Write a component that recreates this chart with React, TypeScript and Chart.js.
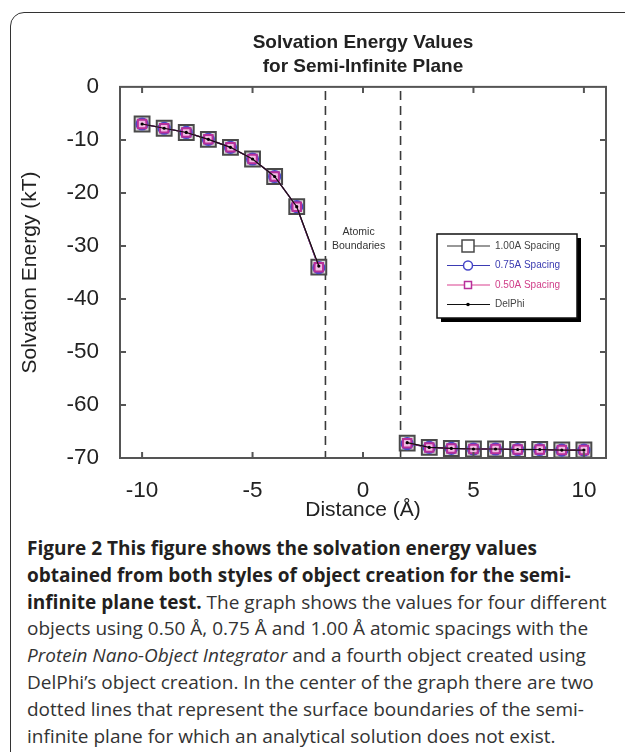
import React, { useEffect, useRef } from "react";
import { Chart, registerables } from "chart.js";

Chart.register(...registerables);

// ---------- data ----------
const DISTANCE = [-10, -9, -8, -7, -6, -5, -4, -3, -2, 2, 3, 4, 5, 6, 7, 8, 9, 10];
const SPACING_100 = [-7.0, -7.8, -8.6, -9.9, -11.4, -13.6, -16.9, -22.6, -34.0, -67.2, -68.0, -68.2, -68.3, -68.3, -68.4, -68.4, -68.5, -68.5];
const SPACING_075 = [-7.0, -7.8, -8.6, -9.9, -11.4, -13.6, -16.9, -22.6, -34.1, -67.3, -68.0, -68.2, -68.3, -68.3, -68.4, -68.4, -68.5, -68.5];
const SPACING_050 = [-7.0, -7.8, -8.6, -9.9, -11.4, -13.6, -16.9, -22.6, -34.0, -67.2, -68.0, -68.2, -68.3, -68.3, -68.4, -68.4, -68.5, -68.5];
const DELPHI = [-7.0, -7.8, -8.6, -9.9, -11.4, -13.6, -16.9, -22.6, -33.8, -67.1, -68.0, -68.2, -68.3, -68.3, -68.4, -68.4, -68.5, -68.5];
const SERIES_LABELS = ["1.00A Spacing", "0.75A Spacing", "0.50A Spacing", "DelPhi"];
const X_TICKS = [-10, -5, 0, 5, 10];
const BOUNDARIES = [-1.7, 1.7];
const ANNOTATION = ["Atomic", "Boundaries"];
const ANNOTATION_POS = { x: -0.2, y: [-27.4, -30.0] };
const TITLE = ["Solvation Energy Values", "for Semi-Infinite Plane"];
const X_TITLE = "Distance (Å)";
const Y_TITLE = "Solvation Energy (kT)";

const FONT = "Arial, 'Liberation Sans', sans-serif";

const toPoints = (arr: number[]) => DISTANCE.map((x, i) => ({ x, y: arr[i] }));
const gapSegment = {
  borderColor: (ctx: any) => (ctx.p1.parsed.x - ctx.p0.parsed.x > 1.5 ? "rgba(0,0,0,0)" : undefined),
};

const framePlugin = {
  id: "frame",
  beforeDatasetsDraw(chart: any) {
    const { ctx, chartArea: a, scales } = chart;
    const xs = scales.x;
    ctx.save();
    ctx.strokeStyle = "#3a3a3a";
    ctx.lineWidth = 1.6;
    ctx.setLineDash([9, 6]);
    BOUNDARIES.forEach((b) => {
      const px = xs.getPixelForValue(b);
      ctx.beginPath();
      ctx.moveTo(px, a.top + 4);
      ctx.lineTo(px, a.bottom);
      ctx.stroke();
    });
    ctx.setLineDash([]);
    ctx.fillStyle = "#333";
    ctx.font = `10.5px ${FONT}`;
    ctx.textAlign = "center";
    ctx.textBaseline = "middle";
    ANNOTATION.forEach((t, i) => {
      ctx.fillText(t, xs.getPixelForValue(ANNOTATION_POS.x), scales.y.getPixelForValue(ANNOTATION_POS.y[i]));
    });
    ctx.restore();
  },
  afterDraw(chart: any) {
    const { ctx, chartArea: a, scales } = chart;
    ctx.save();
    ctx.strokeStyle = "#555";
    ctx.lineWidth = 2;
    ctx.strokeRect(a.left, a.top, a.right - a.left, a.bottom - a.top);
    const tl = 6;
    ctx.beginPath();
    scales.x.ticks.forEach((t: any) => {
      const px = scales.x.getPixelForValue(t.value);
      ctx.moveTo(px, a.top);
      ctx.lineTo(px, a.top + tl);
      ctx.moveTo(px, a.bottom);
      ctx.lineTo(px, a.bottom - tl);
    });
    scales.y.ticks.forEach((t: any) => {
      if (t.value === scales.y.min || t.value === scales.y.max) return;
      const py = scales.y.getPixelForValue(t.value);
      ctx.moveTo(a.left, py);
      ctx.lineTo(a.left + tl, py);
      ctx.moveTo(a.right, py);
      ctx.lineTo(a.right - tl, py);
    });
    ctx.stroke();

    // legend
    const L = { x: 437, y: 234, w: 140, h: 84 };
    ctx.fillStyle = "#000";
    ctx.fillRect(L.x + 4, L.y + 4, L.w, L.h);
    ctx.fillStyle = "#fff";
    ctx.fillRect(L.x, L.y, L.w, L.h);
    ctx.strokeStyle = "#111";
    ctx.lineWidth = 1.5;
    ctx.strokeRect(L.x, L.y, L.w, L.h);
    const textColors = ["#444", "#3b3bb0", "#d0408a", "#444"];
    chart.data.datasets.forEach((ds: any, i: number) => {
      const ry = L.y + 12 + i * 19.5;
      const sx0 = L.x + 10, sx1 = L.x + 53, mx = L.x + 31;
      ctx.strokeStyle = ds.borderColor;
      ctx.lineWidth = 1.2;
      ctx.beginPath();
      ctx.moveTo(sx0, ry);
      ctx.lineTo(sx1, ry);
      ctx.stroke();
      const r = ds.legendRadius;
      ctx.fillStyle = ds.legendFill;
      ctx.strokeStyle = ds.pointBorderColor;
      ctx.lineWidth = ds.pointBorderWidth ? 1.5 : 1;
      ctx.beginPath();
      if (ds.pointStyle === "rect") {
        ctx.rect(mx - r, ry - r, 2 * r, 2 * r);
      } else {
        ctx.arc(mx, ry, r, 0, Math.PI * 2);
      }
      ctx.fill();
      if (ds.pointBorderWidth) ctx.stroke();
      ctx.fillStyle = textColors[i];
      ctx.font = `10px ${FONT}`;
      ctx.textAlign = "left";
      ctx.textBaseline = "middle";
      ctx.fillText(ds.label, L.x + 58, ry);
    });
    ctx.restore();
  },
};

function ChartView() {
  const ref = useRef<HTMLCanvasElement | null>(null);
  useEffect(() => {
    if (!ref.current) return;
    const chart = new Chart(ref.current, {
      type: "line",
      data: {
        datasets: [
          {
            label: SERIES_LABELS[0],
            data: toPoints(SPACING_100),
            borderColor: "#333",
            borderWidth: 1.3,
            pointStyle: "rect",
            pointRadius: 10.5,
            pointBorderColor: "#4a4a4a",
            pointBackgroundColor: "#dcdcdc",
            pointBorderWidth: 2,
            order: 3,
            segment: gapSegment,
            legendRadius: 6,
            legendFill: "#fff",
          } as any,
          {
            label: SERIES_LABELS[1],
            data: toPoints(SPACING_075),
            borderColor: "#3b3bb3",
            borderWidth: 1.2,
            pointStyle: "circle",
            pointRadius: 5.5,
            pointBorderColor: "#4646c8",
            pointBackgroundColor: "#fff",
            pointBorderWidth: 2.2,
            order: 2,
            segment: gapSegment,
            legendRadius: 4.5,
            legendFill: "#fff",
          } as any,
          {
            label: SERIES_LABELS[2],
            data: toPoints(SPACING_050),
            borderColor: "#d9418f",
            borderWidth: 1.2,
            pointStyle: "rect",
            pointRadius: 6,
            pointBorderColor: "#b8309a",
            pointBackgroundColor: "rgba(235,160,215,0.7)",
            pointBorderWidth: 2,
            order: 1,
            segment: gapSegment,
            legendRadius: 3.5,
            legendFill: "#fff",
          } as any,
          {
            label: SERIES_LABELS[3],
            data: toPoints(DELPHI),
            borderColor: "#111",
            borderWidth: 1.2,
            pointStyle: "circle",
            pointRadius: 1.6,
            pointBorderColor: "#000",
            pointBackgroundColor: "#000",
            pointBorderWidth: 0,
            order: 0,
            segment: gapSegment,
            legendRadius: 1.8,
            legendFill: "#000",
          } as any,
        ],
      },
      options: {
        responsive: false,
        animation: false,
        events: [],
        layout: { padding: { left: 0, right: 19, top: 0, bottom: 0 } },
        plugins: {
          legend: { display: false },
          tooltip: { enabled: false },
          title: {
            display: true,
            text: TITLE,
            fullSize: false,
            color: "#222",
            font: { family: FONT, size: 19, weight: "bold", lineHeight: 1.26 },
            padding: { top: 31, bottom: 8 },
          },
        },
        scales: {
          x: {
            type: "linear",
            min: -11,
            max: 11,
            afterBuildTicks: (s: any) => {
              s.ticks = X_TICKS.map((v) => ({ value: v }));
            },
            afterFit: (s: any) => {
              s.height = 72;
            },
            grid: { display: false },
            border: { display: false },
            ticks: {
              color: "#222",
              padding: 11,
              maxRotation: 0,
              font: { family: FONT, size: 22.5 },
              callback: (v: any) => String(v),
            },
            title: {
              display: true,
              text: X_TITLE,
              color: "#222",
              font: { family: FONT, size: 21 },
              padding: { top: 2, bottom: 7 },
            },
          },
          y: {
            type: "linear",
            min: -70,
            max: 0,
            ticks: {
              stepSize: 10,
              color: "#222",
              padding: 13,
              font: { family: FONT, size: 22.5 },
            },
            afterFit: (s: any) => {
              s.width = 120;
            },
            grid: { display: false },
            border: { display: false },
            title: {
              display: true,
              text: Y_TITLE,
              color: "#222",
              font: { family: FONT, size: 21 },
              padding: { top: 18, bottom: 0 },
            },
          },
        },
      } as any,
      plugins: [framePlugin],
    });
    return () => chart.destroy();
  }, []);
  return <canvas ref={ref} width={625} height={530} style={{ position: "absolute", left: 0, top: 0 }} />;
}

const bold: React.CSSProperties = { fontWeight: 700, color: "#231f20" };

export default function App() {
  return (
    <div style={{ position: "fixed", left: 0, top: 0, width: 625, height: 752, overflow: "hidden", background: "#fff" }}>
      <div
        style={{
          position: "absolute",
          left: 10,
          top: 12,
          width: 720,
          height: 780,
          border: "1.5px solid #333",
          borderRadius: 14,
          boxSizing: "border-box",
        }}
      />
      <ChartView />
      <div
        style={{
          position: "absolute",
          left: 27,
          top: 535,
          fontFamily: "'Open Sans', sans-serif",
          fontSize: 19,
          lineHeight: "26.8px",
          color: "#333",
          whiteSpace: "nowrap",
        }}
      >
        <div style={bold}>Figure 2 This figure shows the solvation energy values</div>
        <div style={bold}>obtained from both styles of object creation for the semi-</div>
        <div>
          <span style={bold}>infinite plane test.</span> The graph shows the values for four different
        </div>
        <div>objects using 0.50 Å, 0.75 Å and 1.00 Å atomic spacings with the</div>
        <div>
          <i>Protein Nano-Object Integrator</i> and a fourth object created using
        </div>
        <div>DelPhi’s object creation. In the center of the graph there are two</div>
        <div>dotted lines that represent the surface boundaries of the semi-</div>
        <div>infinite plane for which an analytical solution does not exist.</div>
      </div>
    </div>
  );
}
